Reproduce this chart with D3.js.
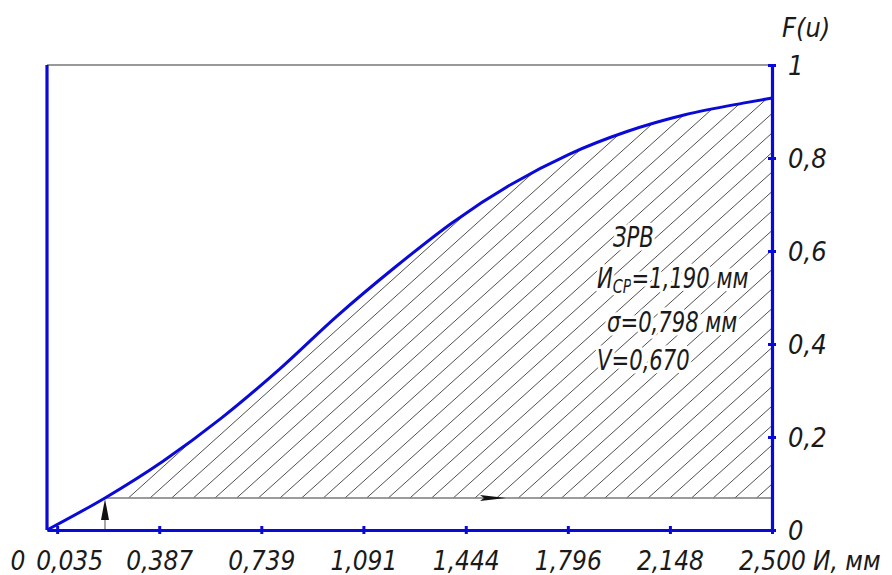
<!DOCTYPE html>
<html>
<head>
<meta charset="utf-8">
<script src="https://cdn.jsdelivr.net/npm/d3@7"></script>
<style>
  body { margin: 0; background: #fff; }
  text { font-family: "DejaVu Sans Condensed", "DejaVu Sans", sans-serif; font-style: oblique; fill: #1a1a1a; }
</style>
</head>
<body>
<script>
// curve F(u)
var uVals = [0, 0.2, 0.4, 0.6, 0.8, 1.0, 1.2, 1.4, 1.6, 1.8, 2.0, 2.2, 2.4, 2.5];
var fVals = [0, 0.069, 0.148, 0.24, 0.345, 0.46, 0.565, 0.662, 0.743, 0.808, 0.857, 0.893, 0.918, 0.929];

var xTicks = [0.035, 0.387, 0.739, 1.091, 1.444, 1.796, 2.148, 2.5];
var xTickLabels = ["0,035", "0,387", "0,739", "1,091", "1,444", "1,796", "2,148", "2,500"];
var yTicks = [0, 0.2, 0.4, 0.6, 0.8, 1];
var yTickLabels = ["0", "0,2", "0,4", "0,6", "0,8", "1"];

var uStart = 0.2, fStart = 0.069;   // lower limit of the hatched zone
var notes = ["ЗРВ", "=1,190 мм", "σ=0,798 мм", "V=0,670"];

var blue = "#0a0ad8";
var W = 892, H = 575;
var x = d3.scaleLinear().domain([0, 2.5]).range([47, 772]);
var y = d3.scaleLinear().domain([0, 1]).range([530, 65]);

var svg = d3.select("body").append("svg").attr("width", W).attr("height", H);

var pts = uVals.map(function(u, i) { return [u, fVals[i]]; });
var line = d3.line().x(function(d) { return x(d[0]); }).y(function(d) { return y(d[1]); })
  .curve(d3.curveMonotoneX);

// hatched zone: between curve and F = fStart, from uStart to the end
var zone = pts.filter(function(d) { return d[0] >= uStart; });
var area = d3.area().x(function(d) { return x(d[0]); })
  .y0(y(fStart)).y1(function(d) { return y(d[1]); })
  .curve(d3.curveMonotoneX);

svg.append("clipPath").attr("id", "zone").append("path").attr("d", area(zone));

var hatch = svg.append("g").attr("clip-path", "url(#zone)");
var ang = 42 * Math.PI / 180, step = 21.66, x0 = 605, yb = y(fStart);
for (var k = -40; k <= 40; k++) {
  var sx = x0 + k * step;
  hatch.append("line")
    .attr("x1", sx).attr("y1", yb)
    .attr("x2", sx + 600 * Math.cos(ang)).attr("y2", yb - 600 * Math.sin(ang))
    .attr("stroke", "#505050").attr("stroke-width", 1);
}

// top line at F = 1
svg.append("line").attr("x1", x(0)).attr("x2", x(2.5)).attr("y1", y(1)).attr("y2", y(1))
  .attr("stroke", "#999").attr("stroke-width", 2.2);

// lower border of the zone
svg.append("line").attr("x1", x(uStart)).attr("x2", x(2.5)).attr("y1", yb).attr("y2", yb)
  .attr("stroke", "#7a7a7a").attr("stroke-width", 1.5);

// arrows
svg.append("line").attr("x1", x(uStart)).attr("x2", x(uStart)).attr("y1", y(0)).attr("y2", yb + 18)
  .attr("stroke", "#888").attr("stroke-width", 1.5);
svg.append("path")
  .attr("d", "M" + x(uStart) + "," + (yb + 1) + " L" + (x(uStart) - 4) + "," + (yb + 22) +
    " L" + (x(uStart) + 4) + "," + (yb + 22) + "Z")
  .attr("fill", "#111");
svg.append("path")
  .attr("d", "M" + 506 + "," + yb + " L" + 480 + "," + (yb - 3) + " L" + 484 + "," + yb +
    " L" + 480 + "," + (yb + 3) + "Z")
  .attr("fill", "#111");

// axes
var xAxis = svg.append("g").attr("transform", "translate(0," + y(0) + ")")
  .call(d3.axisBottom(x).tickValues(xTicks).tickSize(0).tickSizeOuter(0)
    .tickFormat(function(d, i) { return xTickLabels[i]; }));
xAxis.select(".domain").attr("stroke", blue).attr("stroke-width", 3.2);
xAxis.selectAll(".tick line").attr("y1", -4).attr("y2", 4).attr("stroke", blue).attr("stroke-width", 3);
xAxis.selectAll(".tick text").attr("y", 0).attr("dy", 40).attr("font-size", 26)
  .attr("dx", function(d, i) { return i === 0 ? 12 : 0; });

var yAxis = svg.append("g").attr("transform", "translate(" + x(2.5) + ",0)")
  .call(d3.axisRight(y).tickValues(yTicks).tickSize(0).tickSizeOuter(0)
    .tickFormat(function(d, i) { return yTickLabels[i]; }));
yAxis.select(".domain").attr("stroke", blue).attr("stroke-width", 3.2);
yAxis.selectAll(".tick line").attr("x1", -4).attr("x2", 4).attr("stroke", blue).attr("stroke-width", 3);
yAxis.selectAll(".tick text").attr("x", 16).attr("dy", "0.35em").attr("font-size", 27)
  .attr("text-anchor", "start");
svg.selectAll(".tick text").attr("fill", "#1a1a1a");

// left border
svg.append("line").attr("x1", x(0)).attr("x2", x(0)).attr("y1", y(1)).attr("y2", y(0))
  .attr("stroke", blue).attr("stroke-width", 3.2);

// curve
svg.append("path").attr("d", line(pts)).attr("fill", "none")
  .attr("stroke", blue).attr("stroke-width", 3);

// axis titles
svg.append("text").attr("x", 18).attr("y", 570).attr("font-size", 26).attr("text-anchor", "middle").text("0");
svg.append("text").attr("x", 813).attr("y", 570).attr("font-size", 26).text("И, мм");
svg.append("text").attr("x", 782).attr("y", 37).attr("font-size", 27).text("F(u)");

// notes (narrowed like the drawing font)
var nt = svg.append("g").attr("font-size", 28);
function note(xx, yy) {
  return nt.append("text").attr("transform", "translate(" + xx + "," + yy + ") scale(0.84,1)")
    .attr("stroke", "#fff").attr("stroke-width", 7).attr("paint-order", "stroke")
    .attr("stroke-linejoin", "round");
}
note(613, 247).text(notes[0]);
var t2 = note(597, 288);
t2.append("tspan").text("И");
t2.append("tspan").attr("font-size", 19).attr("dy", 5).text("СР");
t2.append("tspan").attr("dy", -5).text(notes[1]);
note(607, 332).text(notes[2]);
note(597, 370).text(notes[3]);
</script>
</body>
</html>
